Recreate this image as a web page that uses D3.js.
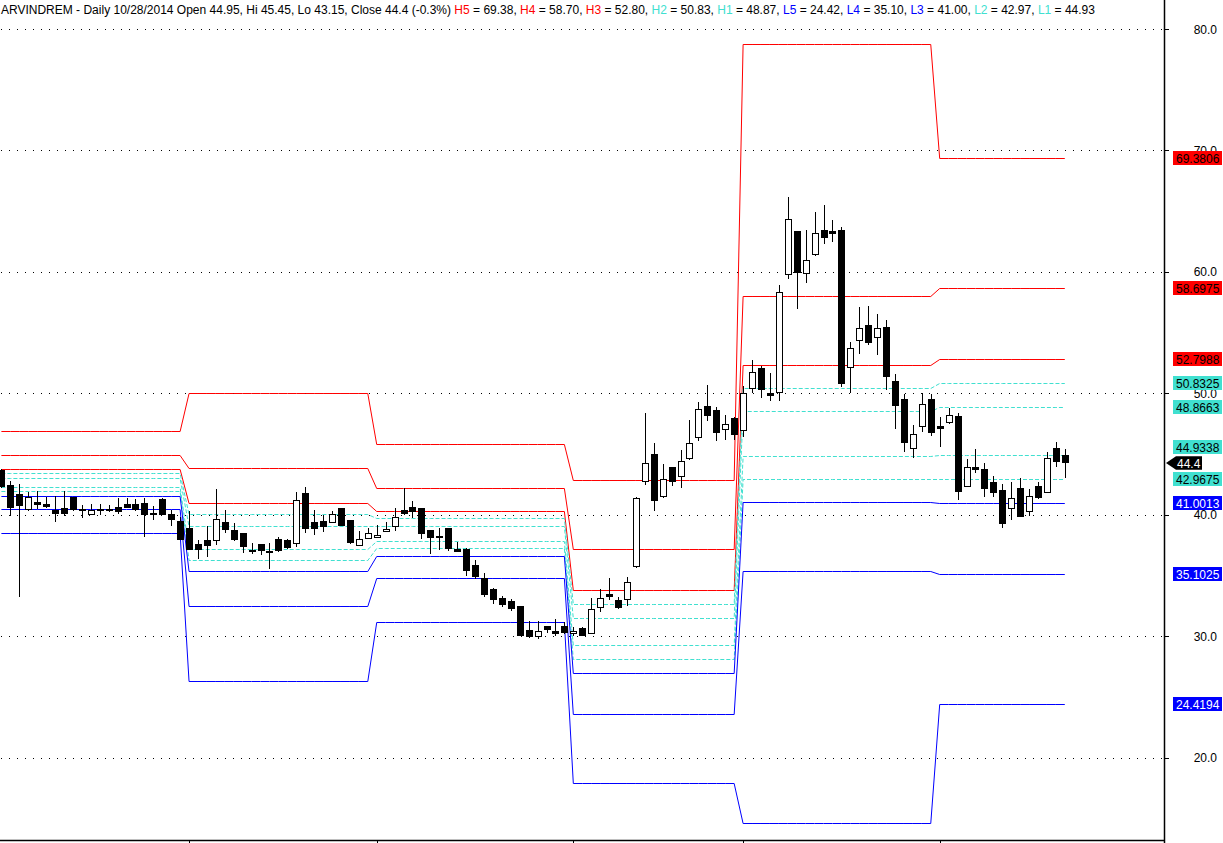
<!DOCTYPE html>
<html><head><meta charset="utf-8">
<script src="https://cdn.jsdelivr.net/npm/d3@7"></script>
<style>
body{margin:0;background:#fff;}
svg{display:block;}
text{font-family:"Liberation Sans",Arial,sans-serif;font-size:12px;}
</style>
</head><body>
<svg id="chart" width="1223" height="843"></svg>
<script>
// ---------- DATA ----------
const monthNames = ["May 2014","Jun 2014","Jul 2014","Aug 2014","Sep 2014","Oct 2014"];
const monthDays  = [21, 21, 22, 19, 22, 15];

const open = [
 43.70,42.47,41.73,40.47,41.07,40.91,40.41,40.58,41.46,40.47,40.06,40.50,40.47,40.66,40.91,40.91,40.99,40.16,41.32,40.08,39.50,
 38.95,37.59,37.94,37.92,39.42,38.77,38.49,37.12,37.61,37.04,38.03,37.94,37.67,41.79,39.40,39.51,39.45,40.58,39.59,37.51,38.11,
 38.20,38.66,39.09,40.41,40.63,40.58,38.77,38.27,38.90,37.18,37.20,35.88,34.84,33.91,33.14,32.92,32.51,30.53,30.00,30.86,30.45,30.86,
 30.26,30.67,30.31,32.45,33.46,33.00,33.06,35.80,42.77,45.00,41.54,43.93,43.19,44.72,46.39,48.97,48.62,47.05,47.96,
 46.97,50.43,52.07,50.02,50.10,59.81,63.37,59.89,61.46,63.46,63.37,63.46,52.16,54.38,55.61,54.63,55.47,51.03,49.55,45.49,47.35,49.52,
 47.30,47.68,48.15,42.41,43.95,43.79,42.72,42.06,40.60,42.22,40.30,42.39,41.92,45.51,44.95];
const high = [
 43.75,42.80,42.55,41.87,42.00,41.46,41.59,42.00,41.50,40.80,40.91,40.88,40.82,41.37,41.40,41.32,41.37,40.72,41.40,40.41,39.86,
 40.30,37.94,39.09,42.14,40.41,39.34,38.50,37.67,37.65,37.67,38.20,38.00,41.87,42.30,40.41,40.03,40.35,40.60,39.60,38.71,38.95,
 39.18,39.40,40.55,42.22,41.13,40.60,38.80,38.93,38.95,37.80,37.30,36.30,35.20,33.95,33.33,33.09,32.55,31.25,31.25,30.90,31.44,31.17,
 30.75,30.80,33.14,33.91,34.79,33.28,34.92,41.50,48.42,45.90,44.17,43.95,45.35,47.82,49.28,50.70,48.90,48.23,48.10,
 50.62,52.76,52.29,51.66,58.90,66.15,63.40,63.46,64.91,65.51,64.28,63.73,54.21,57.14,57.20,56.54,56.05,51.58,49.93,47.41,50.02,49.96,
 48.07,48.83,48.37,44.61,45.43,44.25,43.21,42.55,42.72,43.07,42.14,42.72,45.19,46.00,45.45];
const low = [
 42.30,40.00,33.35,40.45,40.55,40.68,39.53,40.00,40.40,39.86,40.05,40.06,40.33,40.14,40.63,40.45,38.30,39.67,40.05,39.20,38.00,
 37.20,36.49,36.65,37.59,38.63,37.98,36.98,36.85,36.77,35.61,37.00,37.30,37.47,38.58,38.41,38.71,39.43,39.15,37.67,37.50,38.10,
 38.15,38.65,38.77,40.10,39.86,38.10,36.85,37.23,37.12,37.00,35.09,34.84,33.33,32.78,32.51,32.18,30.10,29.93,29.90,30.40,30.10,30.30,
 30.10,30.10,30.30,32.12,33.06,32.32,32.57,35.70,42.53,40.41,41.50,42.44,42.28,44.63,46.17,47.82,46.15,46.23,46.23,
 46.50,50.15,49.70,49.47,49.47,59.53,57.06,59.20,61.40,62.36,62.55,50.64,50.10,53.36,54.05,53.25,50.37,47.19,45.29,44.80,46.94,46.58,
 45.70,47.60,41.32,42.40,43.57,41.56,41.59,39.04,39.67,39.90,40.03,41.43,41.90,44.03,43.15];
const close = [
 42.38,40.68,40.85,41.46,40.93,40.77,40.19,40.19,40.47,40.40,40.39,40.40,40.37,40.33,40.69,40.50,40.11,40.10,40.11,39.65,38.05,
 37.24,37.18,37.56,39.65,38.87,38.00,37.47,37.01,37.12,36.93,37.09,37.39,41.21,38.95,38.95,39.12,40.08,39.20,37.80,38.00,38.49,
 38.33,38.87,39.86,40.19,40.30,38.49,38.16,38.16,37.30,37.06,35.50,35.00,33.52,33.11,32.65,32.32,30.15,30.07,30.45,30.62,30.26,30.37,
 30.45,30.15,32.24,33.14,33.33,32.40,34.46,41.37,44.25,41.21,42.94,42.77,44.42,45.90,48.70,48.21,46.81,47.47,46.64,
 50.02,51.74,50.35,49.85,58.33,64.34,60.02,60.99,63.18,62.86,63.18,50.84,53.72,55.37,54.26,55.39,51.46,49.08,46.03,46.67,49.14,46.86,
 47.20,48.21,42.00,43.93,43.79,42.25,41.92,39.37,41.40,39.94,41.54,41.51,44.69,44.47,44.40];

// Monthly Camarilla pivot levels (one value per month)
const H5 = [46.91, 50.00, 45.84, 42.88, 78.77, 69.3806];
const H4 = [44.94, 43.85, 42.20, 37.20, 58.00, 58.6975];
const H3 = [43.82, 40.99, 40.35, 33.81, 52.35, 52.7988];
const H2 = [43.45, 40.07, 39.74, 32.67, 50.47, 50.8325];
const H1 = [43.08, 39.13, 39.12, 31.54, 48.58, 48.8663];
const L1 = [42.33, 37.24, 37.89, 29.28, 44.82, 44.9338];
const L2 = [41.96, 36.29, 37.27, 28.15, 42.93, 42.9675];
const L3 = [41.59, 35.35, 36.66, 27.01, 41.05, 41.0013];
const L4 = [40.47, 32.51, 34.81, 23.62, 35.40, 35.1025];
const L5 = [38.50, 26.36, 31.16, 17.94, 14.63, 24.4194];

const yTickValues = [20, 30, 40, 50, 60, 70, 80];
const lastPrice = 44.4;
const titleText = "ARVINDREM - Daily 10/28/2014 Open 44.95, Hi 45.45, Lo 43.15, Close 44.4 (-0.3%) ";
const titleLevels = [
  ["H5","69.38"],["H4","58.70"],["H3","52.80"],["H2","50.83"],["H1","48.87"],
  ["L5","24.42"],["L4","35.10"],["L3","41.00"],["L2","42.97"],["L1","44.93"]];

// ---------- STYLE ----------
const RED = "#ff0000", BLUE = "#0000ff", TURQ = "#40e0d0";
const levelDefs = [
  {name:"H5", vals:H5, color:RED,  dash:null, text:"#000"},
  {name:"H4", vals:H4, color:RED,  dash:null, text:"#000"},
  {name:"H3", vals:H3, color:RED,  dash:null, text:"#000"},
  {name:"H2", vals:H2, color:TURQ, dash:"4,2", text:"#000"},
  {name:"H1", vals:H1, color:TURQ, dash:"4,2", text:"#000"},
  {name:"L1", vals:L1, color:TURQ, dash:"4,2", text:"#000"},
  {name:"L2", vals:L2, color:TURQ, dash:"4,2", text:"#000"},
  {name:"L3", vals:L3, color:BLUE, dash:null, text:"#fff"},
  {name:"L4", vals:L4, color:BLUE, dash:null, text:"#fff"},
  {name:"L5", vals:L5, color:BLUE, dash:null, text:"#fff"}
];
const levelColorByName = {};
levelDefs.forEach(d => levelColorByName[d.name] = d.color);

// ---------- BUILD ----------
const monthOf = [];
const monthStart = [];
monthDays.forEach((n, m) => { monthStart.push(monthOf.length); for (let k = 0; k < n; k++) monthOf.push(m); });
const candles = open.map((o, i) => ({i, o, h: high[i], l: low[i], c: close[i], m: monthOf[i]}));

const svg = d3.select("#chart");
const axisX = 1164, bottomY = 840;
const x = d3.scaleLinear().domain([0, 130.1]).range([1.4, axisX]);
const y = d3.scaleLinear().domain([13.25, 82.387]).range([bottomY, 0]);
const px = v => Math.round(x(v));
const py = v => Math.round(y(v)) + 0.5;

// grid (dotted)
svg.append("g").selectAll("line").data(yTickValues).join("line")
  .attr("x1", 1).attr("x2", axisX - 2)
  .attr("y1", d => py(d)).attr("y2", d => py(d))
  .attr("stroke", "#000").attr("stroke-dasharray", "1,7");

// pivot level lines
const line = d3.line().x(d => x(d.i)).y(d => py(d.v));
svg.append("g").selectAll("path").data(levelDefs).join("path")
  .attr("d", def => line(candles.map(c => ({i: c.i, v: def.vals[c.m]}))))
  .attr("fill", "none").attr("stroke", d => d.color).attr("stroke-width", 1)
  .attr("stroke-dasharray", d => d.dash);

// candles
const cg = svg.append("g").attr("shape-rendering", "crispEdges");
cg.selectAll("line").data(candles).join("line")
  .attr("x1", d => px(d.i) + 0.5).attr("x2", d => px(d.i) + 0.5)
  .attr("y1", d => Math.round(y(d.h))).attr("y2", d => Math.round(y(d.l)) + 1)
  .attr("stroke", "#000");
cg.selectAll("rect").data(candles).join("rect")
  .attr("x", d => px(d.i) - 2.5)
  .attr("width", 6)
  .attr("y", d => Math.round(y(Math.max(d.o, d.c))) + 0.5)
  .attr("height", d => Math.max(1, Math.round(y(Math.min(d.o, d.c))) - Math.round(y(Math.max(d.o, d.c)))))
  .attr("fill", d => d.c >= d.o ? "#fff" : "#000")
  .attr("stroke", "#000");

// axes
svg.append("line").attr("x1", axisX + 0.5).attr("x2", axisX + 0.5).attr("y1", 0).attr("y2", 843)
  .attr("stroke", "#000").attr("stroke-width", 1.5);
svg.append("line").attr("x1", 0).attr("x2", axisX).attr("y1", bottomY + 0.5).attr("y2", bottomY + 0.5)
  .attr("stroke", "#000").attr("stroke-width", 1.5);
svg.append("g").selectAll("line").data(monthStart.slice(1)).join("line")
  .attr("x1", d => px(d) + 0.5).attr("x2", d => px(d) + 0.5)
  .attr("y1", bottomY).attr("y2", 843).attr("stroke", "#000");

const yt = svg.append("g");
yt.selectAll("line").data(yTickValues).join("line")
  .attr("x1", axisX).attr("x2", axisX + 5)
  .attr("y1", d => py(d)).attr("y2", d => py(d)).attr("stroke", "#000");
yt.selectAll("text").data(yTickValues).join("text")
  .attr("x", 1217).attr("y", d => y(d) + 4.5)
  .attr("text-anchor", "end").attr("fill", "#000")
  .text(d => d3.format(".1f")(d));

// level value boxes (last month)
const lastM = monthDays.length - 1;
const ym = y(lastPrice) + 1.5;
const boxH = 14;
const fmt4 = d3.format(".4f");
const boxes = levelDefs.map(def => {
  const v = def.vals[lastM];
  let c = y(v);
  // keep clear of the last-price marker
  if (c + boxH/2 > ym - 7 && c - boxH/2 < ym + 7) {
    c = c < ym ? ym - 7 - 2 - boxH/2 : ym + 7 + 2 + boxH/2;
  }
  // keep clear of a tick label sitting on the same line
  yTickValues.forEach(t => { if (Math.abs(c - y(t)) < 3) c = y(t) + 9; });
  return {def, v, c};
});
const bg = svg.append("g");
bg.selectAll("rect").data(boxes).join("rect")
  .attr("x", 1173).attr("width", 49)
  .attr("y", d => Math.round(d.c - boxH/2)).attr("height", boxH)
  .attr("fill", d => d.def.color);
bg.selectAll("text").data(boxes).join("text")
  .attr("x", 1176).attr("y", d => Math.round(d.c - boxH/2) + 11.5)
  .attr("fill", d => d.def.text)
  .text(d => fmt4(d.v));

// last price marker
svg.append("path")
  .attr("d", `M${axisX+2},${ym} L${axisX+12},${ym-6.7} L1202,${ym-6.7} L1202,${ym+6.7} L${axisX+12},${ym+6.7} Z`)
  .attr("fill", "#000");
svg.append("text").attr("x", 1177).attr("y", ym + 4.5).attr("fill", "#fff").text(lastPrice);

// title
const title = svg.append("text").attr("x", 1).attr("y", 14).attr("fill", "#000");
title.append("tspan").text(titleText);
titleLevels.forEach((p, k) => {
  title.append("tspan").attr("fill", levelColorByName[p[0]]).text(p[0]);
  title.append("tspan").attr("fill", "#000").text(" = " + p[1] + (k < titleLevels.length - 1 ? ", " : ""));
});
</script>
</body></html>
